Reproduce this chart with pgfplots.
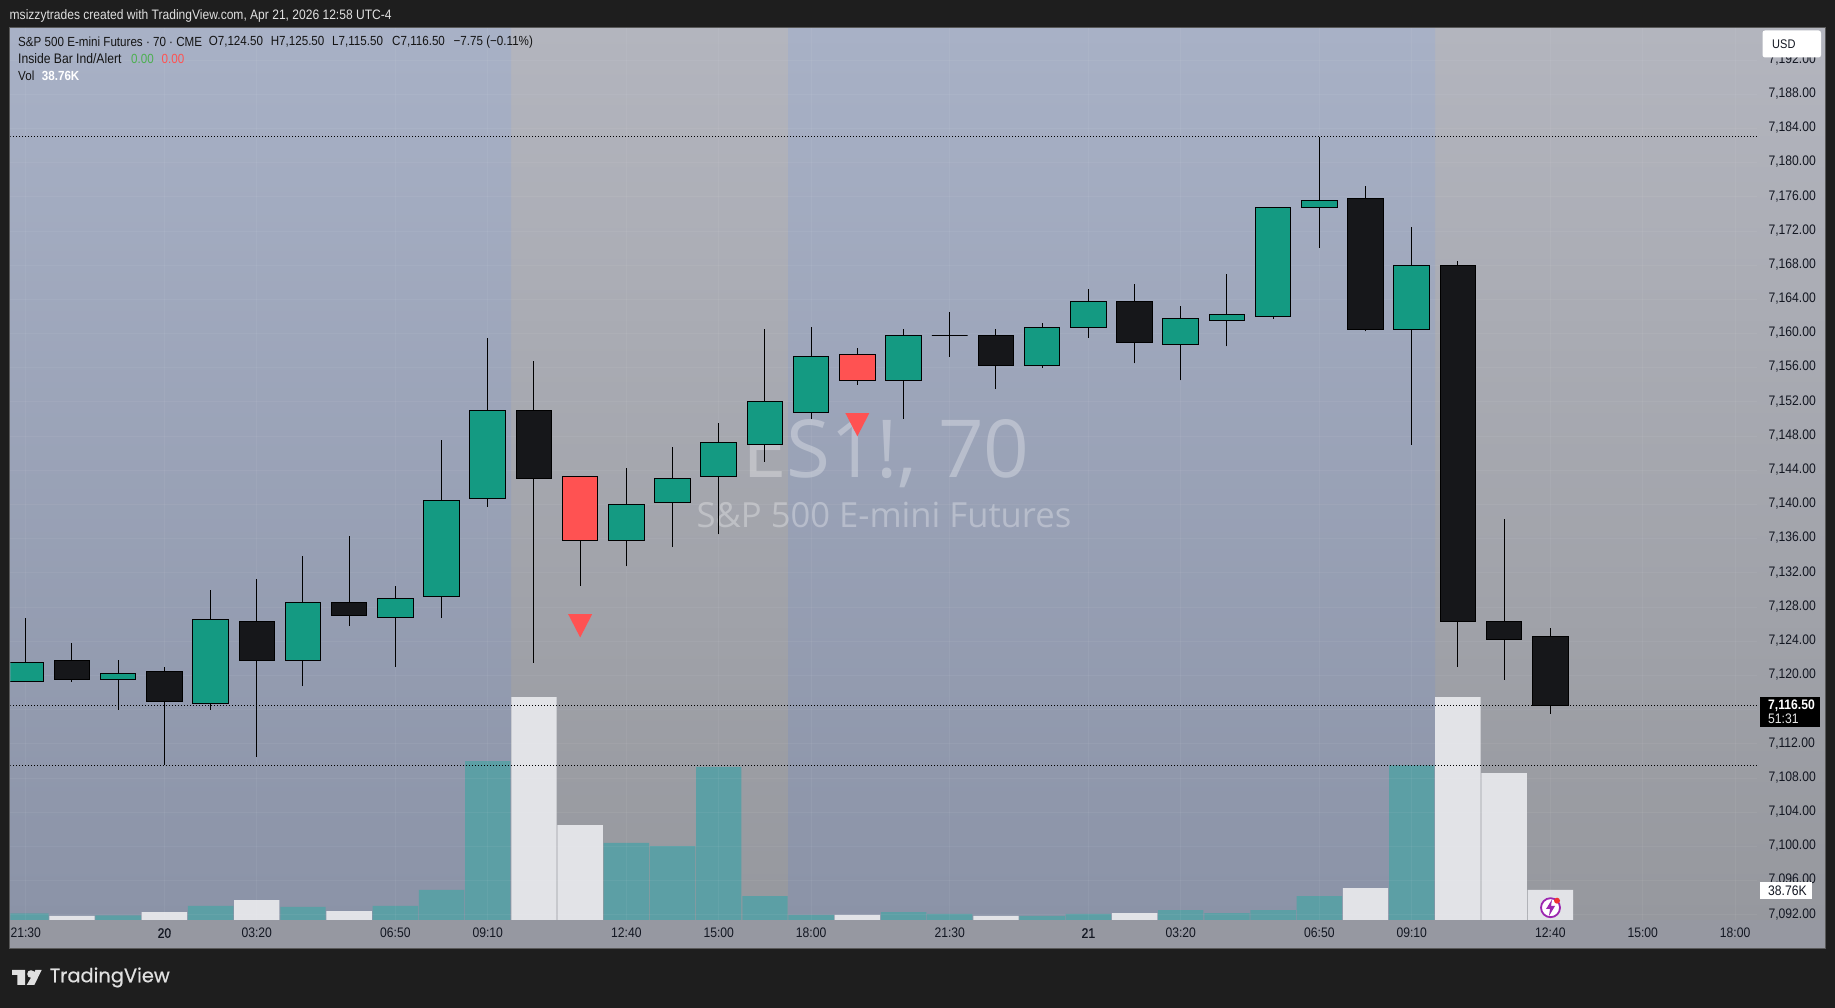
\documentclass[border=0pt]{standalone}
\usepackage{fontspec}
\setmainfont{Liberation Sans}[FakeStretch=0.88]
\newfontfamily\logofont{Poppins}[FakeBold=0.6]
\newfontfamily\wmfont{Open Sans}
\newfontface\semib{Liberation Sans}[FakeStretch=0.88,FakeBold=0.5]
\usepackage{pgfplots}
\usepackage{pgfplotstable}
\pgfplotsset{compat=1.18}
\definecolor{outer}{RGB}{30,30,30}
\definecolor{cgreen}{RGB}{20,154,130}
\definecolor{cblack}{RGB}{22,23,26}
\definecolor{cred}{RGB}{255,82,82}
\definecolor{vteal}{RGB}{92,159,165}
\definecolor{vwhite}{RGB}{226,227,231}
\definecolor{lab}{RGB}{19,23,34}
\definecolor{bt}{RGB}{168,177,198}
\definecolor{bm}{RGB}{152,160,181}
\definecolor{bb}{RGB}{139,147,167}
\definecolor{gt}{RGB}{179,181,190}
\definecolor{gm}{RGB}{163,165,173}
\definecolor{gb}{RGB}{150,152,158}
\definecolor{strip}{RGB}{150,152,161}
\definecolor{iconp}{RGB}{156,39,176}
\definecolor{iconr}{RGB}{240,50,50}
\definecolor{lgreen}{RGB}{76,175,80}
\pgfdeclareplotmark{downtri}{%
  \pgfpathmoveto{\pgfqpoint{-12pt}{11.65pt}}%
  \pgfpathlineto{\pgfqpoint{12pt}{11.65pt}}%
  \pgfpathlineto{\pgfqpoint{0pt}{-11.65pt}}%
  \pgfpathclose\pgfusepathqfill}
% index, open, close, high, low, colour
\newcommand\candle[6]{%
  \pgfmathsetmacro\xa{#1-0.385}%
  \pgfmathsetmacro\xb{#1+0.385}%
  \addplot[black,line width=1pt,forget plot] coordinates {(#1,#5) (#1,#4)};
  \addplot[fill=#6,draw=black,line width=1pt,forget plot] coordinates {(\xa,#2) (\xb,#2) (\xb,#3) (\xa,#3)} -- cycle;
}
\newcommand\lgd[3]{\node[anchor=west,inner sep=0pt,text=black!92,font=\fontsize{13.2}{15}\selectfont] at (#1,1008-#2) {#3};}
\pgfplotstableread{
i v
0 8.6
2 6.1
4 18.1
6 16.8
8 18.1
9 38.8
10 205.4
13 99.5
14 95.6
15 197.7
16 31.0
17 6.5
19 10.3
20 7.8
22 5.2
23 7.8
25 12.9
26 9.0
27 12.9
28 31.0
30 199.9
}\voltealdata
\pgfplotstableread{
i v
1 5.2
3 10.3
5 25.8
7 11.6
11 288.1
12 122.7
18 6.5
21 5.2
24 9.0
29 41.3
31 288.1
32 189.9
33 38.76
}\volwhitedata
\begin{document}
\begin{tikzpicture}[x=1pt,y=1pt]
\useasboundingbox (0,0) rectangle (1835,1008);
\fill[outer] (0,0) rectangle (1835,1008);
% chart panel
\fill[top color=gt,middle color=gm,bottom color=gb] (10,88) rectangle (1825,980);
\fill[top color=bt,middle color=bm,bottom color=bb] (10,88) rectangle (511,980);
\fill[top color=bt,middle color=bm,bottom color=bb] (788,88) rectangle (1435,980);
\fill[strip] (10,60) rectangle (1825,88);
\draw[black!65!white,line width=1.2pt] (9.5,59.5) rectangle (1825.5,980.5);
% header and watermark
\node[anchor=west,inner sep=0pt,text=white!88!black,font=\fontsize{13.7}{15}\selectfont] at (9.5,992.3) {msizzytrades created with TradingView.com, Apr 21, 2026 12:58 UTC-4};
\node[anchor=center,inner sep=0pt,text=white,opacity=0.3,font=\wmfont\fontsize{80}{90}\selectfont] at (886,1008-454) {ES1!, 70};
\node[anchor=center,inner sep=0pt,text=white,opacity=0.3,font=\wmfont\fontsize{34.6}{40}\selectfont] at (884,1008-515) {S\&P 500 E-mini Futures};
% volume pane
\begin{axis}[at={(10.3pt,88pt)},anchor=south west,scale only axis,width=1747pt,height=892pt,
  xmin=-0.3355,xmax=37.48,ymin=0,ymax=1152.5,hide axis,clip=true]
\addplot[ybar,bar width=45.4pt,bar shift=0pt,fill=vteal,draw=none] table[x=i,y=v] {\voltealdata};
\addplot[ybar,bar width=45.4pt,bar shift=0pt,fill=vwhite,draw=none] table[x=i,y=v] {\volwhitedata};
\end{axis}
% price pane
\begin{axis}[at={(10.3pt,88pt)},anchor=south west,scale only axis,width=1747pt,height=892pt,
  xmin=-0.3355,xmax=37.48,ymin=7091.38,ymax=7195.74,
  axis line style={draw=none},major tick length=0pt,
  grid=both,major grid style={white,opacity=0.05,line width=0.8pt},
  xtick={0,3,5,8,10,13,15,17,20,23,25,28,30,33,35,37},
  xticklabels={21:30,{\semib 20},03:20,06:50,09:10,12:40,15:00,18:00,21:30,{\semib 21},03:20,06:50,09:10,12:40,15:00,18:00},
  ytick={7092,7096,7100,7104,7108,7112,7116,7120,7124,7128,7132,7136,7140,7144,7148,7152,7156,7160,7164,7168,7172,7176,7180,7184,7188,7192},
  ytick pos=right,
  yticklabel style={/pgf/number format/.cd,fixed,fixed zerofill,precision=2,1000 sep={,},assume math mode=true,/tikz/.cd,anchor=west,inner sep=0pt,xshift=11pt,yshift=0.6pt,text=lab,font=\fontsize{13.8}{16}\selectfont},
  xticklabel style={inner sep=0pt,text=lab,yshift=-8pt,font=\fontsize{13.8}{16}\selectfont},
  clip=true]
% dotted price lines
\addplot[black,line width=0.9pt,dash pattern=on 1pt off 2pt] coordinates {(-0.3355,7183) (37.48,7183)};
\addplot[black,line width=0.9pt,dash pattern=on 1pt off 2pt] coordinates {(-0.3355,7116.5) (37.48,7116.5)};
\addplot[black,line width=0.9pt,dash pattern=on 1pt off 2pt] coordinates {(-0.3355,7109.5) (37.48,7109.5)};
\candle{0}{7119.25}{7121.5}{7126.75}{7119.25}{cgreen}
\candle{1}{7121.75}{7119.5}{7123.75}{7119.25}{cblack}
\candle{2}{7119.5}{7120.25}{7121.75}{7116}{cgreen}
\candle{3}{7120.5}{7117}{7121}{7109.5}{cblack}
\candle{4}{7116.75}{7126.5}{7130}{7116}{cgreen}
\candle{5}{7126.25}{7121.75}{7131.25}{7110.5}{cblack}
\candle{6}{7121.75}{7128.5}{7134}{7118.75}{cgreen}
\candle{7}{7128.5}{7127}{7136.25}{7125.75}{cblack}
\candle{8}{7126.75}{7129}{7130.5}{7121}{cgreen}
\candle{9}{7129.25}{7140.5}{7147.5}{7126.75}{cgreen}
\candle{10}{7140.75}{7151}{7159.5}{7139.75}{cgreen}
\candle{11}{7151}{7143}{7156.75}{7121.5}{cblack}
\candle{12}{7143.25}{7135.75}{7143.25}{7130.5}{cred}
\candle{13}{7135.75}{7140}{7144.25}{7132.75}{cgreen}
\candle{14}{7140.25}{7143}{7146.75}{7135}{cgreen}
\candle{15}{7143.25}{7147.25}{7149.5}{7136.5}{cgreen}
\candle{16}{7147}{7152}{7160.5}{7145}{cgreen}
\candle{17}{7150.75}{7157.25}{7160.75}{7150}{cgreen}
\candle{18}{7157.5}{7154.5}{7158.25}{7154}{cred}
\candle{19}{7154.5}{7159.75}{7160.5}{7150}{cgreen}
\candle{20}{7159.75}{7159.75}{7162.5}{7157.25}{cgreen}
\candle{21}{7159.75}{7156.25}{7160.5}{7153.5}{cblack}
\candle{22}{7156.25}{7160.75}{7161.25}{7156}{cgreen}
\candle{23}{7160.75}{7163.75}{7165.25}{7159.5}{cgreen}
\candle{24}{7163.75}{7159}{7165.75}{7156.5}{cblack}
\candle{25}{7158.75}{7161.75}{7163.25}{7154.5}{cgreen}
\candle{26}{7161.5}{7162.25}{7167}{7158.5}{cgreen}
\candle{27}{7162}{7174.75}{7174.75}{7161.75}{cgreen}
\candle{28}{7174.75}{7175.5}{7183}{7170}{cgreen}
\candle{29}{7175.75}{7160.5}{7177.25}{7160.25}{cblack}
\candle{30}{7160.5}{7168}{7172.5}{7147}{cgreen}
\candle{31}{7168}{7126.25}{7168.5}{7121}{cblack}
\candle{32}{7126.25}{7124.25}{7138.25}{7119.5}{cblack}
\candle{33}{7124.5}{7116.5}{7125.5}{7115.5}{cblack}
% inside-bar alert markers
\addplot[only marks,mark=downtri,mark options={fill=cred,draw=none},color=cred] coordinates {(12,7125.8) (18,7149.33)};
\end{axis}
% price-scale labels
\fill[white,rounded corners=2.5pt] (1762.5,1008-57.5) rectangle (1821,1008-30.5);
\node[anchor=west,inner sep=0pt,text=lab,font=\fontsize{12.5}{14}\selectfont] at (1772,1008-44.5) {USD};
\fill[black] (1760,1008-727.5) rectangle (1820,1008-697);
\node[anchor=west,inner sep=0pt,text=white,font=\bfseries\fontsize{13.8}{16}\selectfont] at (1768,1008-705.5) {7,116.50};
\node[anchor=west,inner sep=0pt,text=white!90!black,font=\fontsize{13.8}{16}\selectfont] at (1768,1008-719) {51:31};
\fill[white] (1760,1008-899) rectangle (1812,1008-882);
\node[anchor=west,inner sep=0pt,text=lab,font=\fontsize{13.8}{16}\selectfont] at (1768,1008-890.5) {38.76K};
% legend
\lgd{18}{42}{S\&P 500 E-mini Futures · 70 · CME}
\lgd{208.6}{42}{O7,124.50}
\lgd{270.6}{42}{H7,125.50}
\lgd{332}{42}{L7,115.50}
\lgd{392}{42}{C7,116.50}
\lgd{453.5}{42}{−7.75 (−0.11\%)}
\node[anchor=west,inner sep=0pt,text=black!92,font=\fontsize{13.8}{15}\selectfont] at (18,1008-59) {Inside Bar Ind/Alert};
\lgd{131}{59}{\textcolor{lgreen}{0.00}}
\lgd{161.5}{59}{\textcolor{cred}{0.00}}
\lgd{18}{76}{Vol}
\lgd{41.7}{76}{\textcolor{white}{\textbf{38.76K}}}
% lightning icon
\draw[fill=white,draw=iconp,line width=1.8pt] (1550.5,1008-907.7) circle (9.5);
\fill[iconp] (1552,1008-899.5) -- (1546,1008-909) -- (1550,1008-909) -- (1549,1008-916) -- (1555,1008-906) -- (1551,1008-906) -- cycle;
\fill[iconr] (1557,1008-900.7) circle (3);
% logo
\fill[white!88!black] (12,1008-970) -- (25,1008-970) -- (25,1008-985) -- (17.3,1008-985) -- (17.3,1008-975) -- (12,1008-975) -- cycle;
\fill[white!88!black] (31,1008-974) circle (3.8);
\fill[white!88!black] (35.5,1008-970) -- (41.7,1008-970) -- (34.3,1008-985) -- (26.7,1008-985) -- cycle;
\node[anchor=west,inner sep=0pt,text=white!88!black,font=\logofont\fontsize{19.4}{22}\selectfont] at (49.5,1008-977.5) {TradingView};
\end{tikzpicture}
\end{document}
